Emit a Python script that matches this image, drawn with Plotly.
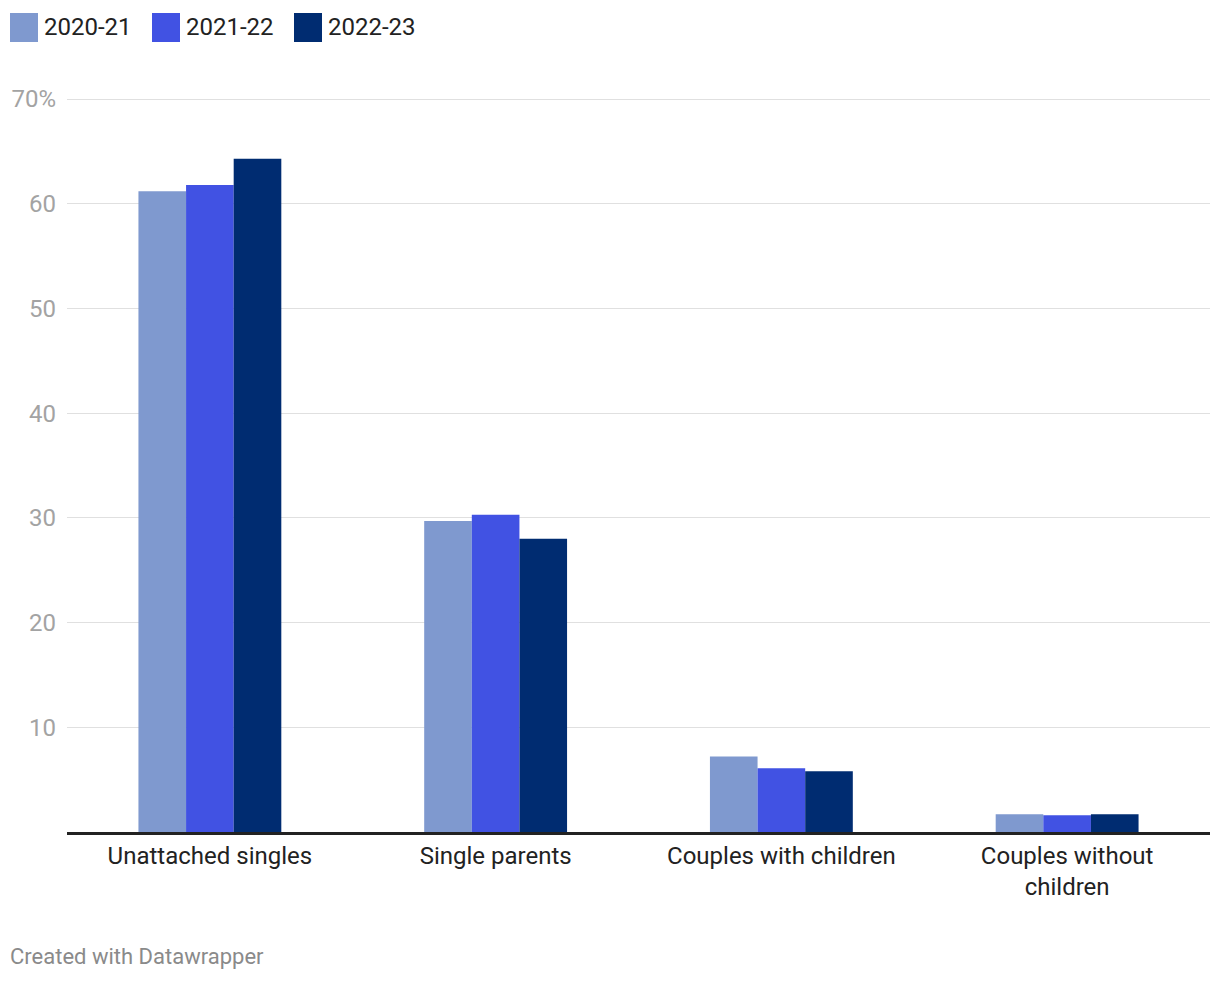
import plotly.graph_objects as go

categories = ["Unattached singles", "Single parents", "Couples with children", "Couples without<br>children"]
series_names = ["2020-21", "2021-22", "2022-23"]
v_2020_21 = [61.2, 29.7, 7.2, 1.7]
v_2021_22 = [61.8, 30.3, 6.1, 1.6]
v_2022_23 = [64.3, 28.0, 5.8, 1.7]
colors = ["#7f99cf", "#4152e3", "#002c71"]
tick_vals = [10, 20, 30, 40, 50, 60, 70]
tick_text = ["10", "20", "30", "40", "50", "60", "70%"]

OFF = 8  # page body margin
W, H = 1220 - OFF, 982 - OFF
L, R, T, B = 67 - OFF, W - (1210 - OFF), 98 - OFF, H - (832 - OFF)

fig = go.Figure()
for name, vals, col in zip(series_names, [v_2020_21, v_2021_22, v_2022_23], colors):
    fig.add_trace(go.Bar(x=categories, y=vals, name=name, marker=dict(color=col, line=dict(width=0)),
                         showlegend=False))

fig.update_layout(
    width=W, height=H,
    margin=dict(l=L, r=R, t=T, b=B, pad=0, autoexpand=False),
    plot_bgcolor="white", paper_bgcolor="white",
    barmode="group", bargap=0.5, bargroupgap=0,
    font=dict(family="Roboto", color="#222222"),
    xaxis=dict(showgrid=False, showline=True, linecolor="#222222", linewidth=2.5, automargin=False,
               tickfont=dict(size=24, color="#222222"), ticks="", zeroline=False),
    yaxis=dict(range=[0, 70.1], tickvals=tick_vals, ticktext=tick_text, automargin=False,
               showgrid=True, gridcolor="#e0e0e0", gridwidth=1.2,
               tickfont=dict(size=24, color="#a3a3a3"), ticks="", zeroline=False,
               showline=False, ticklabelstandoff=10),
)

# custom legend (reference pixel coords -> paper coords)
ph = H - T - B
pw = W - L - R
def px_x(x): return (x - OFF - L) / pw
def px_y(y): return (H - B - (y - OFF)) / ph

legend_x = [10, 152, 294]
for lx, name, col in zip(legend_x, series_names, colors):
    fig.add_shape(type="rect", xref="paper", yref="paper",
                  x0=px_x(lx), x1=px_x(lx + 28), y0=px_y(42), y1=px_y(13),
                  fillcolor=col, line=dict(width=0))
    fig.add_annotation(xref="paper", yref="paper", x=px_x(lx + 32), y=px_y(27),
                       text=name, showarrow=False, xanchor="left", yanchor="middle",
                       font=dict(size=24, color="#222222", family="Roboto"))

fig.add_annotation(xref="paper", yref="paper", x=px_x(8), y=px_y(957),
                   text="Created with Datawrapper", showarrow=False, xanchor="left", yanchor="middle",
                   font=dict(size=22, color="#8a8a8a", family="Roboto"))

fig.write_html("out.html")
